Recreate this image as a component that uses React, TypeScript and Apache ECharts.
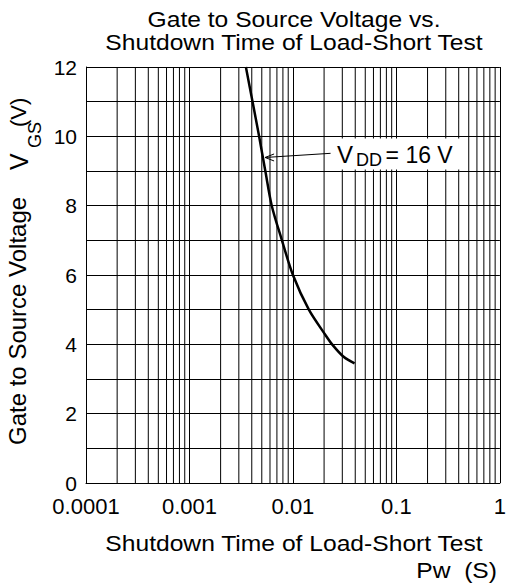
import React, { useEffect, useRef } from 'react';
import * as echarts from 'echarts';

const FONT = '"Liberation Sans", Arial, Helvetica, sans-serif';

// Axis ticks
const xTickValues = [0.0001, 0.001, 0.01, 0.1, 1];
const xTickLabels = ['0.0001', '0.001', '0.01', '0.1', '1'];
const yTickLabels = ['0', '', '2', '', '4', '', '6', '', '8', '', '10', '', '12'];

// Minor (2..9 per decade) vertical grid values
const minorMultipliers = [2, 3, 4, 5, 6, 7, 8, 9];
const minorDecades = [0.0001, 0.001, 0.01, 0.1];

// Curve: VDD = 16 V
const pwSeconds = [0.00351, 0.00407, 0.00471, 0.00541, 0.00624, 0.00783, 0.01, 0.01425, 0.0206, 0.0239, 0.0309, 0.0394];
const vgsVolts = [12, 11, 10, 9, 8, 7, 6, 5, 4.27, 4, 3.64, 3.45];

// Annotation anchor points (data coords)
const arrowTip = [0.00538, 9.39];
const arrowTail = [0.0231, 9.51];

export default function App() {
  const ref = useRef<HTMLDivElement>(null);
  useEffect(() => {
    const chart = echarts.init(ref.current!, null, { renderer: 'svg' });
    const minorX: number[] = [];
    minorDecades.forEach((d) => minorMultipliers.forEach((m) => minorX.push(+(d * m).toPrecision(3))));
    const curve = pwSeconds.map((x, i) => [x, vgsVolts[i]]);
    chart.setOption({
      animation: false,
      backgroundColor: '#fff',
      grid: { left: 86, right: 7, top: 67, bottom: 105, containLabel: false },
      xAxis: {
        type: 'log',
        logBase: 10,
        min: 0.0001,
        max: 1,
        axisLine: { show: true, lineStyle: { color: '#000', width: 1 } },
        axisTick: { show: false },
        splitLine: { show: true, lineStyle: { color: '#000', width: 1 } },
        axisLabel: {
          color: '#000',
          fontFamily: FONT,
          fontSize: 22,
          lineHeight: 20,
          margin: 13,
          formatter: (v: number) => {
            const idx = xTickValues.findIndex((t) => Math.abs(Math.log10(t) - Math.log10(v)) < 1e-6);
            return idx >= 0 ? xTickLabels[idx] : '';
          },
        },
      },
      yAxis: {
        type: 'value',
        min: 0,
        max: 12,
        interval: 1,
        axisLine: { show: true, lineStyle: { color: '#000', width: 1 } },
        axisTick: { show: false },
        splitLine: { show: true, lineStyle: { color: '#000', width: 1 } },
        axisLabel: {
          color: '#000',
          fontFamily: FONT,
          fontSize: 21,
          lineHeight: 18,
          margin: 9,
          formatter: (v: number) => yTickLabels[Math.round(v)] ?? '',
        },
      },
      series: [
        {
          type: 'custom',
          silent: true,
          z: 1,
          data: minorX.map((v) => [v, 0]),
          encode: { x: 0, y: 1 },
          renderItem: (params: any, api: any) => {
            const v = api.value(0);
            const p0 = api.coord([v, 0]);
            const p1 = api.coord([v, 12]);
            return {
              type: 'line',
              shape: { x1: p0[0], y1: p0[1], x2: p1[0], y2: p1[1] },
              style: { stroke: '#000', lineWidth: 1 },
            };
          },
        },
        {
          type: 'line',
          data: curve,
          smooth: 0.3,
          symbol: 'none',
          lineStyle: { color: '#000', width: 2.5 },
          z: 5,
        },
      ],
    });

    const tip = chart.convertToPixel({ gridIndex: 0 }, arrowTip) as number[];
    const tail = chart.convertToPixel({ gridIndex: 0 }, arrowTail) as number[];
    const txt = (x: number, y: number, text: string, size: number, align: string, rot = 0, sx = 1) => ({
      type: 'text',
      x,
      y,
      rotation: rot,
      scaleX: sx,
      z: 100,
      style: { text, fontSize: size, fontFamily: FONT, fill: '#000', align, verticalAlign: 'middle' },
    });
    const R = Math.PI / 2;
    chart.setOption({
      graphic: [
        txt(294, 19, 'Gate to Source Voltage vs.', 22, 'center', 0, 1.12),
        txt(294, 42.5, 'Shutdown Time of Load-Short Test', 22, 'center', 0, 1.12),
        txt(294, 543, 'Shutdown Time of Load-Short Test', 22, 'center', 0, 1.12),
        txt(497, 570, 'Pw  (S)', 22, 'right', 0, 1.12),
        txt(17.5, 445, 'Gate to Source Voltage', 24, 'left', R),
        txt(18.5, 170, 'V', 25, 'left', R),
        txt(35, 148, 'GS', 18, 'left', R),
        txt(18.5, 127, '(V)', 22, 'left', R),
        {
          type: 'rect',
          z: 90,
          shape: { x: tail[0] - 4, y: 138.5, width: 140, height: 31 },
          style: { fill: '#fff' },
        },
        {
          type: 'line',
          z: 95,
          shape: { x1: tail[0], y1: tail[1], x2: tip[0], y2: tip[1] },
          style: { stroke: '#000', lineWidth: 1 },
        },
        {
          type: 'polyline',
          z: 95,
          shape: { points: [[tip[0] + 9, tip[1] - 3.5], [tip[0], tip[1]], [tip[0] + 9, tip[1] + 3.5]] },
          style: { stroke: '#000', lineWidth: 1, fill: 'none' },
        },
        txt(tail[0] + 6.5, 154, 'V', 24, 'left'),
        txt(tail[0] + 25.5, 159.5, 'DD', 18, 'left'),
        txt(tail[0] + 55, 154.5, '= 16 V', 23, 'left'),
      ],
    });
    return () => chart.dispose();
  }, []);
  return <div ref={ref} style={{ position: 'fixed', left: 0, top: 0, width: 509, height: 588 }} />;
}
